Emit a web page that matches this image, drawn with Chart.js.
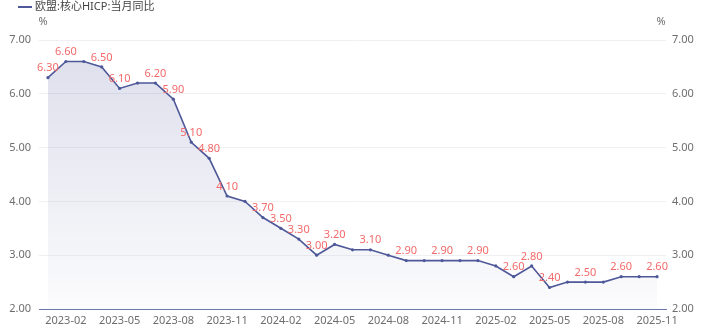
<!DOCTYPE html>
<html>
<head>
<meta charset="utf-8">
<script src="https://cdn.jsdelivr.net/npm/chart.js@4"></script>
<style>
  html, body { margin: 0; padding: 0; background: #fff; }
  #wrap { position: relative; width: 703px; height: 334px; }
</style>
</head>
<body>
<div id="wrap"><canvas id="hicpChart"></canvas></div>
<script>
// ===== DATA =====
const seriesName = '欧盟:核心HICP:当月同比';
const months = [
    '2023-01','2023-02','2023-03','2023-04','2023-05','2023-06','2023-07','2023-08','2023-09','2023-10','2023-11','2023-12',
    '2024-01','2024-02','2024-03','2024-04','2024-05','2024-06','2024-07','2024-08','2024-09','2024-10','2024-11','2024-12',
    '2025-01','2025-02','2025-03','2025-04','2025-05','2025-06','2025-07','2025-08','2025-09','2025-10','2025-11'
];
const coreHicp = [
    6.3, 6.6, 6.6, 6.5, 6.1, 6.2, 6.2, 5.9, 5.1, 4.8, 4.1, 4.0,
    3.7, 3.5, 3.3, 3.0, 3.2, 3.1, 3.1, 3.0, 2.9, 2.9, 2.9, 2.9,
    2.9, 2.8, 2.6, 2.8, 2.4, 2.5, 2.5, 2.5, 2.6, 2.6, 2.6
];
const xTickLabels = [
    '2023-02','2023-05','2023-08','2023-11','2024-02','2024-05',
    '2024-08','2024-11','2025-02','2025-05','2025-08','2025-11'
];
const yMin = 2, yMax = 7, yStep = 1;
const unitLabel = '%';

// ===== STYLE =====
const FONT = '"Noto Sans", "Noto Sans CJK SC", sans-serif';
const LINE_COLOR = '#4e5899';
const LABEL_COLOR = '#f36a6a';
const TICK_COLOR = '#6e6e6e';

// value labels above points, skipping the ones that would overlap
const valueLabels = {
    id: 'valueLabels',
    afterDatasetsDraw(chart) {
        const { ctx } = chart;
        const meta = chart.getDatasetMeta(0);
        const data = chart.data.datasets[0].data;
        ctx.save();
        ctx.font = '11px ' + FONT;
        ctx.fillStyle = LABEL_COLOR;
        ctx.textAlign = 'center';
        ctx.textBaseline = 'bottom';
        const placed = [];
        meta.data.forEach((pt, i) => {
            const txt = data[i].toFixed(2);
            const w = ctx.measureText(txt).width;
            const h = 9;
            const box = { x1: pt.x - w / 2, x2: pt.x + w / 2, y1: pt.y - 5 - h, y2: pt.y - 5 };
            const hit = placed.some(b => box.x1 < b.x2 && box.x2 > b.x1 && box.y1 < b.y2 && box.y2 > b.y1);
            if (hit) return;
            placed.push(box);
            ctx.fillText(txt, pt.x, pt.y - 4);
        });
        ctx.restore();
    }
};

// legend at top-left + unit labels over both y axes
const chartDecor = {
    id: 'chartDecor',
    afterDraw(chart) {
        const { ctx } = chart;
        ctx.save();
        ctx.strokeStyle = LINE_COLOR;
        ctx.lineWidth = 2;
        ctx.beginPath();
        ctx.moveTo(18, 7);
        ctx.lineTo(32, 7);
        ctx.stroke();
        ctx.font = '11px ' + FONT;
        ctx.fillStyle = '#444';
        ctx.textBaseline = 'middle';
        ctx.textAlign = 'left';
        ctx.fillText(seriesName, 35, 7);

        ctx.fillStyle = TICK_COLOR;
        ctx.textAlign = 'center';
        ctx.fillText(unitLabel, 43, 22);
        ctx.fillText(unitLabel, 661, 22);
        ctx.restore();
    }
};

function areaFill(context) {
    const { ctx: c, chartArea } = context.chart;
    if (!chartArea) return 'rgba(78,88,153,0.1)';
    const g = c.createLinearGradient(0, chartArea.top, 0, chartArea.bottom);
    g.addColorStop(0, 'rgba(78,88,153,0.20)');
    g.addColorStop(1, 'rgba(78,88,153,0.02)');
    return g;
}

const yAxisBase = {
    type: 'linear',
    min: yMin,
    max: yMax,
    ticks: {
        stepSize: yStep,
        color: TICK_COLOR,
        font: { size: 11, family: FONT },
        callback: v => v.toFixed(2)
    },
    border: { display: false }
};

new Chart(document.getElementById('hicpChart'), {
    type: 'line',
    data: {
        labels: months,
        datasets: [{
            label: seriesName,
            data: coreHicp,
            borderColor: LINE_COLOR,
            borderWidth: 1.6,
            backgroundColor: areaFill,
            fill: 'start',
            tension: 0,
            pointRadius: 1.6,
            pointBackgroundColor: LINE_COLOR,
            pointBorderColor: LINE_COLOR,
            pointBorderWidth: 0,
            yAxisID: 'y'
        }]
    },
    options: {
        responsive: true,
        maintainAspectRatio: false,
        animation: false,
        layout: { padding: { top: 40, left: 0, right: 0, bottom: 0 } },
        plugins: {
            legend: { display: false },
            tooltip: { enabled: false }
        },
        scales: {
            x: {
                offset: true,
                grid: { display: false, drawTicks: false },
                border: { display: true, color: '#6f78ad', width: 1 },
                ticks: {
                    autoSkip: false,
                    maxRotation: 0,
                    padding: 5,
                    color: TICK_COLOR,
                    font: { size: 11, family: FONT },
                    callback: function(val) {
                        const lbl = this.getLabelForValue(val);
                        return xTickLabels.includes(lbl) ? lbl : '';
                    }
                },
                afterFit: s => { s.height = 25; }
            },
            y: Object.assign({}, yAxisBase, {
                position: 'left',
                grid: { color: '#f0f0f3', drawTicks: false },
                ticks: Object.assign({}, yAxisBase.ticks, { padding: 8 }),
                afterFit: s => { s.width = 39; }
            }),
            y2: Object.assign({}, yAxisBase, {
                position: 'right',
                grid: { display: false, drawTicks: false },
                ticks: Object.assign({}, yAxisBase.ticks, { padding: 6 }),
                afterFit: s => { s.width = 37; }
            })
        }
    },
    plugins: [valueLabels, chartDecor]
});
</script>
</body>
</html>
